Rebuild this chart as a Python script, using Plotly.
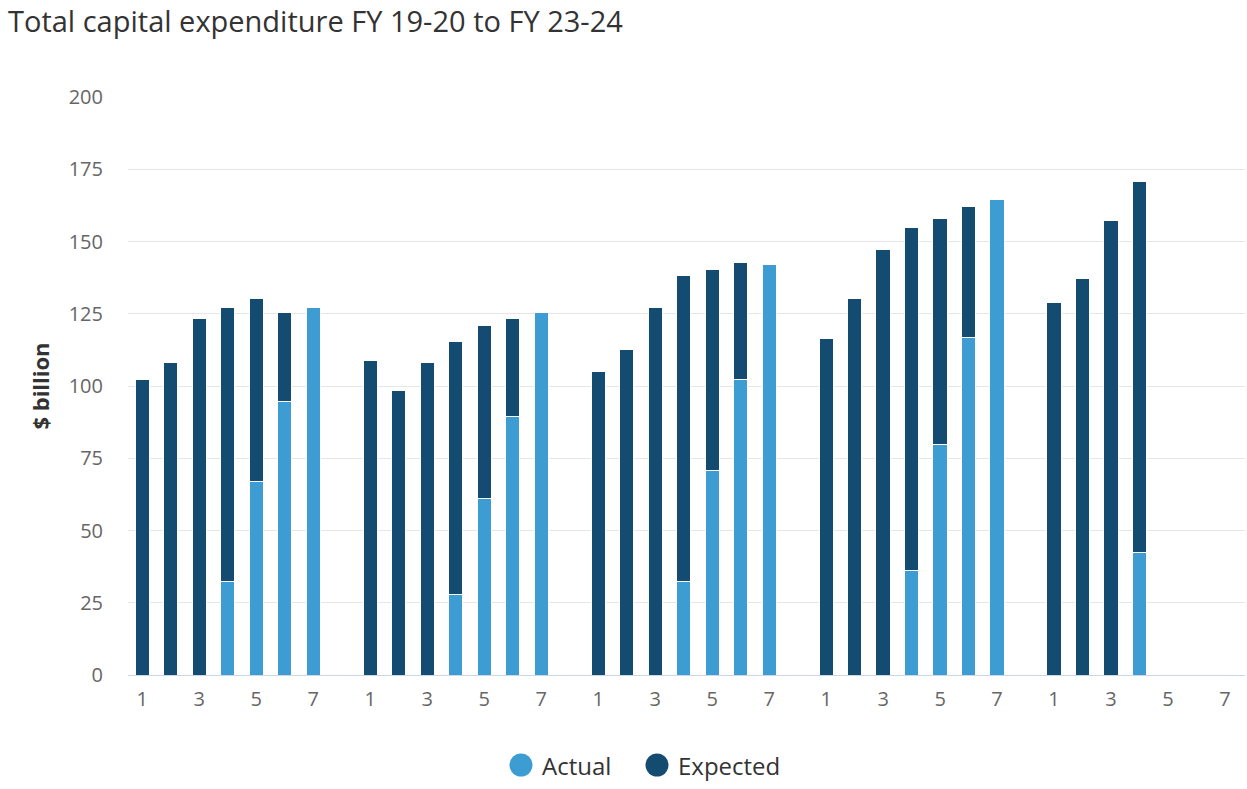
import plotly.graph_objects as go

# Fiscal year groups, each with estimate numbers 1..7
groups = ["FY 19-20", "FY 20-21", "FY 21-22", "FY 22-23", "FY 23-24"]
estimate_labels = ["1", "2", "3", "4", "5", "6", "7"]

# Actual (bottom segment) and Expected (top segment), $ billion
actual_fy1920 = [None, None, None, 32.2, 66.9, 94.8, 127.3]
expected_fy1920 = [102.1, 108.3, 123.2, 95.1, 63.5, 30.5, None]

actual_fy2021 = [None, None, None, 28.0, 61.2, 89.3, 125.3]
expected_fy2021 = [108.7, 98.3, 108.2, 87.5, 59.9, 33.9, None]

actual_fy2122 = [None, None, None, 32.5, 70.6, 102.1, 141.9]
expected_fy2122 = [105.1, 112.8, 127.3, 105.8, 69.8, 40.8, None]

actual_fy2223 = [None, None, None, 36.3, 79.9, 116.7, 164.7]
expected_fy2223 = [116.5, 130.4, 147.1, 118.6, 78.1, 45.5, None]

actual_fy2324 = [None, None, None, 42.5, None, None, None]
expected_fy2324 = [128.8, 137.3, 157.4, 128.4, None, None, None]

actual_all = [actual_fy1920, actual_fy2021, actual_fy2122, actual_fy2223, actual_fy2324]
expected_all = [expected_fy1920, expected_fy2021, expected_fy2122, expected_fy2223, expected_fy2324]

tick_labels = ["1", "3", "5", "7"]
series_names = ["Actual", "Expected"]

ACTUAL_C = "#3d9dd3"
EXPECTED_C = "#144b71"
FONT = "Open Sans"

W, H = 1247, 789
ML, MR, MT, MB = 128, 2, 97, 114
PW, PH = W - ML - MR, H - MT - MB

# positions: each group takes 7 slots + 1 empty slot
xs, ya, ye = [], [], []
for g in range(len(groups)):
    for i in range(len(estimate_labels)):
        xs.append(g * 8 + i)
        ya.append(actual_all[g][i])
        ye.append(expected_all[g][i])

tickvals, ticktext = [], []
for g in range(len(groups)):
    for k, lab in enumerate(tick_labels):
        tickvals.append(g * 8 + k * 2)
        ticktext.append(lab)

fig = go.Figure()
fig.add_trace(go.Bar(x=xs, y=ya, name=series_names[0],
                     marker=dict(color=ACTUAL_C, line=dict(color="white", width=1)),
                     width=0.5, showlegend=False))
fig.add_trace(go.Bar(x=xs, y=ye, name=series_names[1],
                     marker=dict(color=EXPECTED_C, line=dict(color="white", width=1)),
                     width=0.5, showlegend=False))

# custom legend (large circle symbols)
legend_y_px = 765  # figure pixel y of legend centre
ly = -(legend_y_px - (MT + PH)) / PH
legend_items = [(series_names[0], ACTUAL_C, 521, 540), (series_names[1], EXPECTED_C, 657, 676)]
for name, col, cx_px, tx_px in legend_items:
    cx = (cx_px - ML) / PW
    fig.add_shape(type="circle", xref="paper", yref="paper", xsizemode="pixel", ysizemode="pixel",
                  xanchor=cx, yanchor=ly, x0=-11.5, x1=11.5, y0=-11.5, y1=11.5,
                  fillcolor=col, line=dict(width=0))
    fig.add_annotation(text=name, xref="paper", yref="paper", x=(tx_px - ML) / PW, y=ly,
                       xanchor="left", yanchor="middle", showarrow=False,
                       font=dict(family=FONT, size=24, color="#333333"))

fig.update_layout(
    width=W, height=H,
    barmode="stack",
    showlegend=False,
    plot_bgcolor="white", paper_bgcolor="white",
    margin=dict(l=ML, r=MR, t=MT, b=MB, autoexpand=False),
    font=dict(family=FONT, color="#333333"),
    title=dict(text="Total capital expenditure FY 19-20 to FY 23-24",
               x=8 / W, xanchor="left", xref="container", y=1 - 22 / H, yanchor="middle",
               yref="container",
               font=dict(family=FONT, size=29, color="#333333")),
    xaxis=dict(range=[-0.5, 38.7], tickvals=tickvals, ticktext=ticktext,
               showgrid=False, showline=True, linecolor="#ccd6eb", linewidth=1,
               ticks="", tickfont=dict(family=FONT, size=20, color="#666666"),
               ticklabelstandoff=6, zeroline=False),
    yaxis=dict(range=[0, 200], tickvals=[0, 25, 50, 75, 100, 125, 150, 175, 200],
               showgrid=True, gridcolor="#e6e6e6", gridwidth=1, zeroline=False,
               tickfont=dict(family=FONT, size=20, color="#666666"),
               ticklabelstandoff=24,
               title=dict(text="<b>$ billion</b>", font=dict(family=FONT, size=22, color="#333333"), standoff=12)),
)

fig.write_html("out.html", config={"displayModeBar": False},
               post_script="document.body.style.margin='0';")
